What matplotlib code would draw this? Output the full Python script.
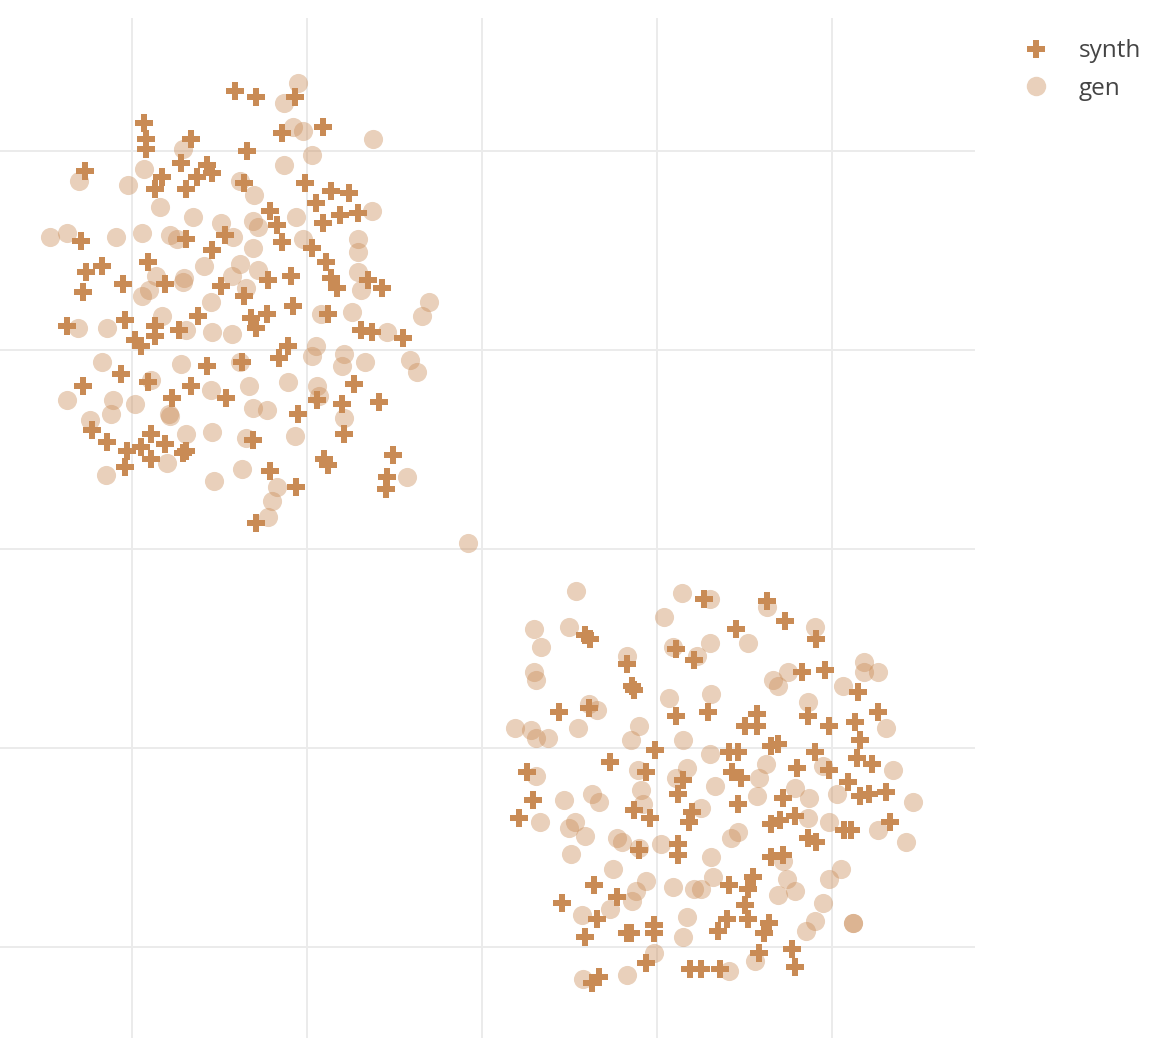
import matplotlib
matplotlib.use("Agg")
import matplotlib.pyplot as plt
from matplotlib.lines import Line2D

# t-SNE style embedding, two clusters (units arbitrary, grid every 10)
synth_x = [-14.1, -12.9, -10.7, -19.3, -19.2, -19.2, -16.6, -11.4, -9.1, -22.7,
           -17.2, -15.7, -15.4, -18.3, -18.7, -16.3, -16.9, -13.4, -13.6, -10.1,
           -8.6, -7.6, -9.5, -12.1, -11.7, -8.1, -7.1, -9.1, -22.9, -16.9,
           -14.7, -15.4, -11.4, -9.7, -8.9, -19.1, -21.7, -22.6, -20.5, -22.8,
           -18.1, -14.9, -12.2, -10.9, -8.6, -8.3, -6.5, -5.7, -13.6, -23.7,
           -20.4, -18.7, -18.7, -19.8, -19.5, -17.3, -16.2, -10.8, -13.2, -12.3,
           -12.9, -8.8, -6.9, -6.3, -4.5, -11.1, -11.6, -13.7, -15.7, -20.6,
           -22.8, -19.1, -16.6, -14.6, -17.7, -7.3, -9.4, -8.0, -5.9, -10.5,
           -7.9, -13.1, -22.3, -21.4, -18.9, -18.1, -20.3, -19.5, -18.9, -17.1,
           -16.9, -20.4, -9.0, -8.8, -5.1, -5.4, -5.5, -12.1, -10.6, -12.9,
           12.7, 16.3, 17.3, 14.5, 19.1, 5.9, 6.2, 11.1, 12.1, 8.3,
           8.6, 8.7, 4.4, 6.1, 11.1, 12.9, 9.9, 7.3, 9.4, 2.6,
           11.5, 18.3, 19.6, 21.5, 22.6, 15.7, 15.0, 15.7, 18.6, 19.8,
           21.3, 21.6, 21.4, 22.3, 16.5, 16.9, 14.1, 14.6, 19.0, 18.0,
           19.8, 14.3, 14.8, 20.9, 11.2, 2.9, 2.1, 8.7, 9.6, 12.0,
           11.8, 9.0, 11.2, 11.2, 6.4, 4.6, 7.7, 6.6, 5.9, 8.3,
           8.5, 9.8, 9.8, 9.4, 11.9, 12.5, 6.3, 6.7, 13.6, 21.6,
           22.1, 23.1, 17.2, 14.6, 16.5, 17.0, 17.9, 20.7, 21.1, 23.3,
           18.6, 19.1, 16.5, 17.2, 15.5, 15.2, 14.1, 15.0, 15.2, 14.0,
           13.5, 16.4, 16.1, 15.8, 17.7, 17.9]
synth_y = [23.0, 22.7, 22.7, 21.4, 20.6, 20.1, 20.6, 20.9, 21.2, 19.0,
           19.4, 19.3, 18.9, 18.7, 18.1, 18.7, 18.1, 20.0, 18.4, 18.4,
           18.0, 17.9, 17.4, 17.0, 16.3, 16.8, 16.9, 16.4, 15.5, 15.6,
           15.8, 15.0, 15.4, 15.1, 14.4, 14.4, 14.2, 13.9, 13.3, 12.9,
           13.3, 13.2, 13.5, 13.7, 13.6, 13.1, 13.5, 13.1, 12.7, 11.2,
           11.5, 11.2, 10.7, 10.5, 10.2, 11.0, 11.7, 12.2, 11.6, 11.8,
           11.1, 11.8, 11.0, 10.9, 10.6, 10.2, 9.6, 9.4, 9.2, 8.8,
           8.2, 8.4, 8.2, 7.6, 7.6, 8.3, 7.5, 7.3, 7.4, 6.8,
           5.8, 5.5, 6.0, 5.4, 5.8, 5.3, 4.9, 5.1, 4.5, 4.8,
           4.9, 4.1, 4.5, 4.2, 4.7, 3.6, 3.0, 3.9, 3.1, 1.3,
           -2.5, -2.6, -3.6, -4.0, -4.5, -4.3, -4.5, -5.0, -5.6, -5.8,
           -6.9, -7.1, -8.2, -8.0, -8.4, -8.2, -10.1, -10.7, -11.2, -11.2,
           -11.6, -6.2, -6.1, -7.2, -8.2, -8.3, -8.9, -8.9, -8.4, -8.9,
           -8.7, -9.6, -10.5, -10.8, -9.9, -9.8, -10.2, -10.2, -10.2, -11.0,
           -11.1, -11.2, -11.5, -11.7, -12.3, -12.6, -13.5, -13.1, -13.5, -13.2,
           -13.7, -15.1, -14.8, -15.4, -16.9, -17.8, -17.5, -18.6, -19.5, -19.3,
           -19.3, -18.9, -19.3, -20.8, -21.1, -21.1, -21.8, -21.5, -21.1, -12.4,
           -12.3, -12.2, -12.5, -12.8, -13.8, -13.6, -13.4, -14.1, -14.1, -13.7,
           -14.5, -14.7, -15.5, -15.4, -16.5, -17.1, -16.9, -17.9, -18.6, -18.6,
           -19.2, -18.8, -19.3, -20.3, -20.1, -21.0]

gen_x = [-10.5, -11.3, -10.8, -10.2, -6.2, -17.1, -9.7, -19.3, -11.3, -23.0,
         -20.2, -13.8, -13.0, -18.4, -16.5, -14.9, -10.6, -6.3, -13.1, -12.8,
         -14.2, -10.2, -7.1, -7.1, -24.7, -23.7, -20.9, -19.4, -17.8, -17.4,
         -13.1, -13.8, -12.8, -14.3, -15.9, -18.6, -17.0, -17.1, -7.1, -6.9,
         -13.5, -19.0, -19.4, -15.5, -3.0, -3.4, -9.2, -7.4, -5.4, -23.1,
         -21.4, -18.3, -16.9, -15.4, -14.3, -9.5, -9.7, -7.9, -8.0, -6.7,
         -4.1, -3.7, -21.7, -17.2, -13.8, -18.9, -13.3, -11.1, -9.4, -9.3,
         -21.1, -23.7, -19.8, -21.2, -22.4, -17.9, -17.8, -15.5, -13.1, -12.3,
         -7.9, -16.9, -15.4, -13.5, -10.7, -18.0, -21.5, -15.3, -13.7, -4.3,
         -11.7, -12.0, -12.2, -0.8,
         5.4, 11.4, 13.0, 10.4, 3.0, 5.0, 3.4, 10.9, 12.3, 13.0,
         8.3, 3.0, 3.1, 6.1, 6.6, 10.7, 13.1, 1.9, 2.8, 3.1,
         3.8, 5.5, 9.0, 8.5, 11.5, 13.0, 3.1, 8.9, 11.7, 11.1,
         16.3, 19.0, 15.2, 16.6, 16.9, 17.5, 20.6, 21.8, 21.8, 22.6,
         18.6, 23.1, 16.2, 19.5, 23.5, 15.8, 13.3, 17.9, 9.1, 4.7,
         6.3, 6.7, 9.2, 12.5, 3.3, 5.0, 5.3, 5.9, 7.7, 8.0,
         9.0, 10.2, 13.1, 5.1, 7.5, 9.4, 8.8, 8.6, 10.9, 12.1,
         12.5, 13.2, 7.3, 5.7, 11.7, 11.5, 9.8, 8.3, 5.8, 15.7,
         18.7, 20.3, 24.6, 18.6, 19.8, 22.6, 24.2, 14.6, 14.2, 17.2,
         17.4, 16.9, 17.9, 20.5, 19.8, 19.5, 19.0, 18.5, 21.2, 21.2,
         15.6, 14.1]
gen_y = [23.4, 22.4, 21.2, 21.0, 20.6, 20.1, 19.8, 19.1, 19.3, 18.5,
         18.3, 18.5, 17.8, 17.2, 16.7, 16.4, 16.7, 17.0, 16.5, 16.2,
         15.7, 15.6, 15.6, 14.9, 15.7, 15.9, 15.7, 15.9, 15.8, 15.6,
         15.1, 14.3, 14.0, 13.7, 14.2, 13.7, 13.6, 13.4, 13.9, 13.0,
         13.1, 13.0, 12.7, 12.4, 12.4, 11.7, 11.8, 11.9, 10.9, 11.1,
         11.1, 11.7, 11.0, 10.9, 10.8, 10.2, 9.7, 9.8, 9.2, 9.4,
         9.5, 8.9, 9.4, 9.3, 9.4, 8.5, 8.2, 8.4, 8.2, 7.7,
         7.5, 7.5, 7.3, 6.8, 6.5, 6.8, 6.7, 8.0, 7.1, 7.0,
         6.6, 5.8, 5.9, 5.6, 5.7, 4.3, 3.7, 3.4, 4.0, 3.6,
         3.1, 2.4, 1.6, 0.3,
         -2.1, -2.2, -2.5, -3.4, -4.0, -3.9, -4.9, -4.9, -5.4, -4.7,
         -5.4, -6.2, -6.6, -7.8, -8.1, -7.5, -7.3, -9.0, -9.1, -9.5,
         -9.5, -9.0, -8.9, -9.6, -9.6, -10.3, -11.4, -11.1, -11.0, -11.5,
         -2.9, -3.9, -4.7, -6.6, -6.9, -6.2, -6.9, -5.7, -6.2, -6.2,
         -7.7, -9.0, -10.8, -10.9, -11.1, -11.5, -11.9, -12.0, -12.1, -12.6,
         -12.3, -12.7, -12.8, -13.0, -13.7, -14.0, -13.7, -14.4, -14.5, -14.7,
         -15.0, -14.8, -15.5, -15.3, -16.1, -16.7, -17.2, -17.7, -17.0, -17.1,
         -17.1, -16.5, -18.1, -18.4, -18.5, -19.5, -20.3, -21.4, -21.6, -12.4,
         -12.5, -12.3, -12.7, -13.5, -13.7, -14.1, -14.7, -14.2, -14.5, -15.7,
         -16.6, -17.4, -17.2, -16.1, -16.6, -17.8, -18.7, -19.2, -18.8, -18.8,
         -20.7, -21.2]

col = '#C98B55'
plt.rcParams['font.family'] = ['Open Sans', 'DejaVu Sans']

fig = plt.figure(figsize=(11.74, 10.38), dpi=100)
ax = fig.add_axes([0, 0, 975 / 1174, 1020 / 1038])

ax.scatter(synth_x, synth_y, marker='P', s=150, color=col, linewidths=0, zorder=3)
ax.scatter(gen_x, gen_y, marker='o', s=190, color=col, alpha=0.4, linewidths=0, zorder=4)

ax.set_xlim(-27.54, 28.17)
ax.set_ylim(-24.57, 26.68)
ax.set_xticks([-20, -10, 0, 10, 20])
ax.set_yticks([-20, -10, 0, 10, 20])
ax.grid(True, color='#ebebeb', linewidth=1.4)
ax.set_axisbelow(True)
ax.tick_params(length=0, labelbottom=False, labelleft=False)
for s in ax.spines.values():
    s.set_visible(False)

handles = [Line2D([], [], marker='P', linestyle='none', markersize=12.5, color=col, markeredgewidth=0),
           Line2D([], [], marker='o', linestyle='none', markersize=14, color=col, alpha=0.4, markeredgewidth=0)]
fig.legend(handles, ['synth', 'gen'], loc='upper left', bbox_to_anchor=(1012 / 1174, 1 - 27 / 1038),
           frameon=False, fontsize=17.5, labelcolor='#444444', borderpad=0, handlelength=1.0,
           handletextpad=1.25, labelspacing=0.55)

fig.savefig('out.png', dpi=100)
